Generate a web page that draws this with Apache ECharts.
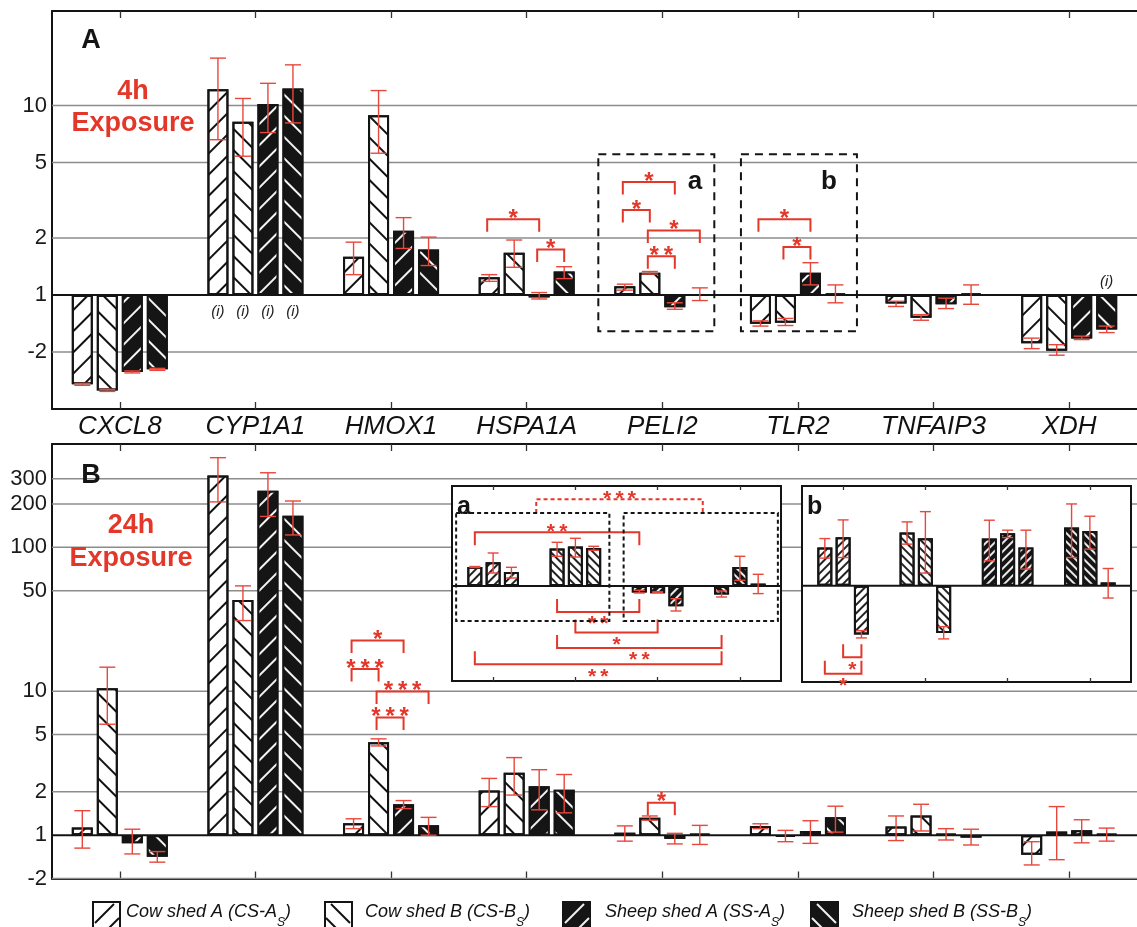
<!DOCTYPE html>
<html><head><meta charset="utf-8">
<script src="https://cdn.jsdelivr.net/npm/echarts@6/dist/echarts.min.js"></script>
<style>html,body{margin:0;padding:0;background:#fff}#c{width:1137px;height:927px}</style>
</head><body><div id="c"></div>
<script>
// ---------------- DATA ----------------
const genes = ['CXCL8','CYP1A1','HMOX1','HSPA1A','PELI2','TLR2','TNFAIP3','XDH'];
const groupNames = ['Cow shed A (CS-A','Cow shed B (CS-B','Sheep shed A (SS-A','Sheep shed B (SS-B'];
const groupSub = 'S';
const ticksA = [-2, 1, 2, 5, 10];
const ticksB = [-2, 1, 2, 5, 10, 50, 100, 200, 300];

// Panel A: 4h exposure, fold change (negative = down-regulation)
const a_CSA = [-2.96, 12.2, 1.59, 1.24, 1.11, -1.42, -1.11, -1.80];
const a_CSB = [-3.19, 8.2, 8.9, 1.67, 1.31, -1.40, -1.32, -1.97];
const a_SSA = [-2.55, 10.2, 2.18, -1.03, -1.16, 1.31, -1.12, -1.70];
const a_SSB = [-2.47, 12.3, 1.74, 1.33, 1.0, 1.02, 1.02, -1.52];
const aErr_CSA = [[-3.0,-2.93],[6.6,17.8],[1.28,1.9],[1.18,1.28],[1.06,1.14],[-1.46,-1.37],[-1.15,-1.08],[-1.92,-1.69]];
const aErr_CSB = [[-3.23,-3.15],[5.4,10.9],[5.6,12.0],[1.40,1.95],[1.29,1.33],[-1.45,-1.33],[-1.36,-1.27],[-2.08,-1.83]];
const aErr_SSA = [[-2.58,-2.52],[7.2,13.1],[1.76,2.56],[-1.05,1.03],[-1.19,-1.10],[1.13,1.48],[-1.18,-1.04],[-1.72,-1.65]];
const aErr_SSB = [[-2.5,-2.44],[8.1,16.4],[1.43,2.02],[1.22,1.41],[-1.07,1.09],[-1.10,1.13],[-1.12,1.13],[-1.58,-1.46]];

// Panel B: 24h exposure
const b_CSA = [1.13, 316, 1.21, 2.04, 1.04, 1.16, 1.15, -1.37];
const b_CSB = [10.5, 43, 4.43, 2.71, 1.32, -1.03, 1.37, 1.06];
const b_SSA = [-1.14, 247, 1.64, 2.19, -1.06, 1.07, 1.02, 1.08];
const b_SSB = [-1.41, 166, 1.17, 2.07, 1.02, 1.33, -1.04, 1.02];
const bErr_CSA = [[-1.23,1.48],[207,420],[1.11,1.30],[1.58,2.48],[-1.10,1.16],[1.11,1.20],[-1.09,1.36],[-1.61,-1.11]];
const bErr_CSB = [[5.9,14.7],[31,54],[4.17,4.67],[1.90,3.46],[1.27,1.36],[-1.11,1.08],[1.07,1.64],[-1.48,1.58]];
const bErr_SSA = [[-1.35,1.10],[164,330],[1.53,1.74],[1.50,2.85],[-1.15,1.03],[-1.14,1.26],[-1.08,1.11],[-1.13,1.28]];
const bErr_SSB = [[-1.54,-1.30],[122,210],[1.0,1.33],[1.43,2.64],[-1.16,1.17],[1.05,1.59],[-1.17,1.10],[-1.10,1.12]];

// significance brackets: [gene, barFrom, barTo, fold level, label]
const sigA = [[3,0,2,2.51,'*'],[3,2,3,1.74,'*'],[4,0,2,3.95,'*'],[4,0,1,2.81,'*'],[4,1,3,2.19,'*'],[4,1,2,1.60,'**'],[5,0,2,2.51,'*'],[5,1,2,1.79,'*']];
const sigB = [[2,0,2,22.5,'*'],[2,0,1,14.3,'***'],[2,1,3,9.96,'***'],[2,1,2,6.57,'***'],[4,1,2,1.68,'*']];
// "(i)" marks: [gene, bar]
const marksI_A = [[1,0],[1,1],[1,2],[1,3],[7,3]];

// Insets (relative log2 units), per shed group, three bars each
const inA_CSA = [0.19, 0.237, 0.14], inA_CSB = [0.374, 0.394, 0.38], inA_SSA = [-0.066, -0.073, -0.203], inA_SSB = [-0.086, 0.19, 0.024];
const inAErr_CSA = [[0.185,0.195],[0.13,0.33],[0.08,0.187]];
const inAErr_CSB = [[0.297,0.437],[0.29,0.477],[0.357,0.397]];
const inAErr_SSA = [[-0.07,-0.043],[-0.065,-0.058],[-0.25,-0.127]];
const inAErr_SSB = [[-0.11,-0.05],[0.057,0.297],[-0.076,0.117]];
const inB_CSA = [0.383, 0.487, -0.49], inB_CSB = [0.533, 0.477, -0.473], inB_SSA = [0.473, 0.527, 0.383], inB_SSB = [0.583, 0.55, 0.033];
const inBErr_CSA = [[0.277,0.473],[0.283,0.66],[-0.523,-0.45]];
const inBErr_CSB = [[0.417,0.64],[0.127,0.743],[-0.533,-0.41]];
const inBErr_SSA = [[0.25,0.657],[0.483,0.557],[0.167,0.557]];
const inBErr_SSB = [[0.283,0.82],[0.367,0.697],[-0.123,0.173]];
// inset brackets: [groupFrom, barFrom, groupTo, barTo, level, label, legs]
const sigInA = [[0,0,2,0,0.537,'**','down'],[1,0,2,0,-0.26,'**','up'],[1,1,2,1,-0.466,'*','up'],[1,0,3,0,-0.62,'**','up'],[0,0,3,0,-0.783,'**','up']];
const sigInADashed = [[0,1,2,3,0.867,0.73,'***']];
const sigInB = [[0,1,0,2,-0.717,'*','up'],[0,0,0,2,-0.883,'*','up']];

// ---------------- HELPERS ----------------
const RED = '#e3372a', ERR = '#e8473b', INK = '#141414';
const FONT = '"Liberation Sans", Arial, Helvetica, sans-serif';
const t = f => f >= 1 ? Math.log2(f) : (f <= -1 ? -Math.log2(-f) : 0);
const id = v => v;
const stars = s => s.split('').join('\u2009');
const hatch = (color, dir, w, gap) => ({symbol:'rect', symbolSize:1, color, dashArrayX:[1,0], dashArrayY:[w,gap], rotation: -dir*Math.PI/4});
const fills = ['#ffffff','#ffffff','#151515','#151515'];
const hatchMain = [hatch('#111',1,2,13), hatch('#111',-1,2,13), hatch('#f4f4f4',1,2,13), hatch('#f4f4f4',-1,2,13)];
const hatchFine = [hatch('#222',1,1.2,3.3), hatch('#222',-1,1.2,3.3), hatch('#e8e8e8',1,1.2,3.3), hatch('#e8e8e8',-1,1.2,3.3)];

const PITCH = 25, PITCH_IN = 18.3;

function mainBars(lists, xi, yi) {
  return lists.map((vals, g) => ({
    type:'bar', name: groupNames[g], xAxisIndex: xi, yAxisIndex: yi, data: vals.map(t),
    barWidth: 21, barGap: '19.05%', z: 2, silent: true,
    itemStyle: {color: fills[g], borderColor: INK, borderWidth: 2, decal: hatchMain[g]}
  }));
}
function insetBars(groups, xi, yi, z) {
  const out = [];
  for (let b = 0; b < 3; b++) {
    out.push({type:'bar', xAxisIndex: xi, yAxisIndex: yi, barWidth: 15, barGap: '22%', z, silent: true,
      data: groups.map((g, c) => ({value: g[b], itemStyle: {color: fills[c], borderColor: INK, borderWidth: 2, decal: hatchFine[c]}}))});
  }
  return out;
}
// lists[g][c] = [lo, hi]; g = bar slot, c = category
function errSeries(lists, xi, yi, pitch, cap, z, tf) {
  const data = [];
  const n = lists.length;
  lists.forEach((lst, g) => lst.forEach((e, c) => data.push([c, g, tf(e[0]), tf(e[1])])));
  return {type:'custom', xAxisIndex: xi, yAxisIndex: yi, z, silent: true, data,
    renderItem(params, api) {
      const c = api.value(0), g = api.value(1);
      const p0 = api.coord([c, api.value(2)]), p1 = api.coord([c, api.value(3)]);
      const x = p0[0] + (g - (n - 1) / 2) * pitch;
      const st = {stroke: ERR, lineWidth: 1.4};
      return {type:'group', children:[
        {type:'line', shape:{x1:x, y1:p0[1], x2:x, y2:p1[1]}, style: st},
        {type:'line', shape:{x1:x-cap/2, y1:p0[1], x2:x+cap/2, y2:p0[1]}, style: st},
        {type:'line', shape:{x1:x-cap/2, y1:p1[1], x2:x+cap/2, y2:p1[1]}, style: st}
      ]};
    }};
}
function hLines(vals, xi, yi, color, width, z) {
  return {type:'custom', xAxisIndex: xi, yAxisIndex: yi, z, silent: true, data: vals.map(v => [0, v]),
    renderItem(params, api) {
      const cs = params.coordSys;
      const y = api.coord([0, api.value(1)])[1];
      return {type:'line', shape:{x1: cs.x, y1: y, x2: cs.x + cs.width, y2: y}, style:{stroke: color, lineWidth: width}};
    }};
}
function bracketEl(x1, x2, y, leg, label, fs, dashed) {
  const up = leg < 0;
  return [
    {type:'polyline', shape:{points:[[x1, y + leg],[x1, y],[x2, y],[x2, y + leg]]}, style:{stroke: RED, lineWidth: 2, fill: 'none', lineDash: dashed ? [4,3] : null}},
    {type:'text', x:(x1 + x2) / 2, y: up ? y + fs * 0.6 : y, style:{text: stars(label), align:'center', verticalAlign:'middle', font: `bold ${fs}px ${FONT}`, fill: RED}}
  ];
}
function panelAnno(xi, yi, sig, marks, boxes, z) {
  return {type:'custom', xAxisIndex: xi, yAxisIndex: yi, z, silent: true, data: [[0, 0]],
    renderItem(params, api) {
      const ch = [];
      sig.forEach(b => {
        const p = api.coord([b[0], t(b[3])]);
        ch.push(...bracketEl(p[0] + (b[1] - 1.5) * PITCH - 2, p[0] + (b[2] - 1.5) * PITCH, p[1], 12.5, b[4], 24, false));
      });
      marks.forEach(m => {
        const p = api.coord([m[0], 0]);
        const neg = m[0] === 7;
        ch.push({type:'text', x: p[0] + (m[1] - 1.5) * PITCH, y: p[1] + (neg ? -13 : 17), style:{text:'(i)', align:'center', verticalAlign:'middle', font:`italic 15px ${FONT}`, fill:'#222'}});
      });
      boxes.forEach(bx => {
        const p = api.coord([bx.gene, t(bx.top)]), q = api.coord([bx.gene, t(bx.bottom)]);
        ch.push({type:'rect', shape:{x: p[0] + bx.dx0, y: p[1], width: bx.dx1 - bx.dx0, height: q[1] - p[1]}, style:{fill:'none', stroke: INK, lineWidth: 2, lineDash:[8,6]}});
        ch.push({type:'text', x: p[0] + bx.dx1 - bx.lx, y: p[1] + 28, style:{text: bx.label, align:'right', verticalAlign:'middle', font:`bold 26px ${FONT}`, fill: INK}});
      });
      return {type:'group', children: ch};
    }};
}
function insetAnno(xi, yi, sig, dashed, boxes, letter, z) {
  return {type:'custom', xAxisIndex: xi, yAxisIndex: yi, z, silent: true, data: [[0, 0]],
    renderItem(params, api) {
      const ch = [];
      const cs = params.coordSys;
      const cx = (c, b) => api.coord([c, 0])[0] + (b - 1) * PITCH_IN;
      sig.forEach(s => {
        const y = api.coord([0, s[4]])[1];
        ch.push(...bracketEl(cx(s[0], s[1]), cx(s[2], s[3]), y, s[6] === 'up' ? -13 : 13, s[5], 21, false));
      });
      dashed.forEach(s => {
        const xa = (api.coord([s[0], 0])[0] + api.coord([s[1], 0])[0]) / 2 + 2;
        const xb = (api.coord([s[2], 0])[0] + api.coord([s[3], 0])[0]) / 2 + 4;
        const y = api.coord([0, s[4]])[1], y2 = api.coord([0, s[5]])[1];
        ch.push(...bracketEl(xa, xb, y, y2 - y, s[6], 21, true));
      });
      boxes.forEach(bx => {
        const x0 = api.coord([bx.c0, 0])[0] + bx.dx0, x1 = api.coord([bx.c1, 0])[0] + bx.dx1;
        const y0 = api.coord([0, bx.top])[1], y1 = api.coord([0, bx.bottom])[1];
        ch.push({type:'rect', shape:{x: x0, y: y0, width: x1 - x0, height: y1 - y0}, style:{fill:'none', stroke: INK, lineWidth: 2, lineDash:[4,3]}});
      });
      ch.push({type:'text', x: cs.x + 5, y: cs.y + 21, style:{text: letter, align:'left', verticalAlign:'middle', font:`bold 25px ${FONT}`, fill: INK}});
      return {type:'group', children: ch};
    }};
}
function yLabelFmt(ticks) {
  return v => { let best = ticks[0], d = 1e9; ticks.forEach(f => { const dd = Math.abs(t(f) - v); if (dd < d) { d = dd; best = f; } }); return String(best); };
}
function catAxis(gi, pos, opts) {
  return Object.assign({type:'category', gridIndex: gi, position: pos, data: opts.data || genes, boundaryGap: true,
    axisLine:{show: opts.line !== false, onZero:false, lineStyle:{color: INK, width: 2}},
    axisTick:{show:true, inside:true, alignWithLabel:true, interval:0, length: opts.tick || 7, lineStyle:{color:'#333', width:1.3}},
    axisLabel:{show:false}, splitLine:{show:false}, z: opts.z || 0}, opts.extra || {});
}
function valAxis(gi, min, max, ticks, show) {
  return {type:'value', gridIndex: gi, min, max, show: show,
    axisLine:{show: true, onZero:false, lineStyle:{color: INK, width: 2}},
    axisTick:{show:false}, splitLine:{show:false},
    axisLabel: ticks ? {show:true, customValues: ticks.map(t), formatter: yLabelFmt(ticks), fontSize: 22, fontFamily: FONT, color:'#1a1a1a', margin: 5} : {show:false}};
}

const inAGroups = [inA_CSA, inA_CSB, inA_SSA, inA_SSB];
const inBGroups = [inB_CSA, inB_CSB, inB_SSA, inB_SSB];
const inErrSlots = (errs) => [0,1,2].map(b => errs.map(e => e[b]));

const option = {
  animation: false,
  backgroundColor: '#fff',
  grid: [
    {left: 52, top: 11, width: 1096, height: 398},
    {left: 52, top: 444, width: 1096, height: 434.5},
    {left: 452, top: 486, width: 329, height: 195, show: true, backgroundColor:'#fff', borderColor: INK, borderWidth: 2, z: 20},
    {left: 802, top: 486, width: 329, height: 196, show: true, backgroundColor:'#fff', borderColor: INK, borderWidth: 2, z: 20}
  ],
  xAxis: [
    catAxis(0, 'bottom', {extra:{axisLabel:{show:true, interval:0, fontSize:26, fontStyle:'italic', fontFamily: FONT, color:'#111', margin:5}}}),
    catAxis(0, 'top', {}),
    catAxis(1, 'bottom', {}),
    catAxis(1, 'top', {}),
    catAxis(2, 'bottom', {data:['a1','a2','a3','a4'], line:false, tick:4, z:23}),
    catAxis(2, 'top', {data:['a1','a2','a3','a4'], line:false, tick:4, z:23}),
    catAxis(3, 'bottom', {data:['b1','b2','b3','b4'], line:false, tick:4, z:23}),
    catAxis(3, 'top', {data:['b1','b2','b3','b4'], line:false, tick:4, z:23})
  ],
  yAxis: [
    valAxis(0, -2, 4.98, ticksA, true),
    valAxis(1, -1, 9.03, ticksB, true),
    valAxis(2, -0.95, 1.0, null, false),
    valAxis(3, -0.965, 1.0, null, false)
  ],
  series: [
    hLines(ticksA.filter(f => f !== 1).map(t), 0, 0, '#8c8c8c', 1.5, 1),
    hLines(ticksB.filter(f => f !== 1).map(t), 2, 1, '#8c8c8c', 1.5, 1),
    ...mainBars([a_CSA, a_CSB, a_SSA, a_SSB], 0, 0),
    ...mainBars([b_CSA, b_CSB, b_SSA, b_SSB], 2, 1),
    hLines([0], 0, 0, INK, 2, 3),
    hLines([0], 2, 1, INK, 2, 3),
    errSeries([aErr_CSA, aErr_CSB, aErr_SSA, aErr_SSB], 0, 0, PITCH, 16, 4, t),
    errSeries([bErr_CSA, bErr_CSB, bErr_SSA, bErr_SSB], 2, 1, PITCH, 16, 4, t),
    panelAnno(0, 0, sigA, marksI_A, [
      {gene:4, dx0:-64, dx1:52, top:5.53, bottom:-1.555, label:'a', lx:12},
      {gene:5, dx0:-57, dx1:59, top:5.53, bottom:-1.555, label:'b', lx:20}], 5),
    panelAnno(2, 1, sigB, [], [], 5),
    ...insetBars(inAGroups, 4, 2, 22),
    ...insetBars(inBGroups, 6, 3, 22),
    hLines([0], 4, 2, INK, 2, 23),
    hLines([0], 6, 3, INK, 2, 23),
    errSeries(inErrSlots([inAErr_CSA, inAErr_CSB, inAErr_SSA, inAErr_SSB]), 4, 2, PITCH_IN, 11, 24, id),
    errSeries(inErrSlots([inBErr_CSA, inBErr_CSB, inBErr_SSA, inBErr_SSB]), 6, 3, PITCH_IN, 11, 24, id),
    insetAnno(4, 2, sigInA, sigInADashed, [
      {c0:0, dx0:-37, c1:1, dx1:34, top:0.73, bottom:-0.35},
      {c0:2, dx0:-34, c1:3, dx1:38, top:0.73, bottom:-0.35}], 'a', 25),
    insetAnno(6, 3, sigInB, [], [], 'b', 25)
  ],
  graphic: (function () {
    const els = [];
    const txt = (x, y, s, font, fill) => ({type:'text', x, y, silent:true, z: 30, style:{text: s, align:'center', verticalAlign:'middle', font, fill}});
    els.push(txt(91, 41, 'A', `bold 27px ${FONT}`, INK));
    els.push(txt(91, 476, 'B', `bold 27px ${FONT}`, INK));
    els.push(txt(133, 92, '4h', `bold 27px ${FONT}`, RED));
    els.push(txt(133, 124, 'Exposure', `bold 27px ${FONT}`, RED));
    els.push(txt(131, 526, '24h', `bold 27px ${FONT}`, RED));
    els.push(txt(131, 559, 'Exposure', `bold 27px ${FONT}`, RED));
    const iconX = [93, 325, 563, 811], textX = [126, 365, 605, 852];
    groupNames.forEach((nm, g) => {
      const x = iconX[g], y = 902, s = 27;
      const lc = g < 2 ? '#111' : '#f2f2f2', lw = 2;
      els.push({type:'rect', silent:true, z:30, shape:{x, y, width: s, height: s}, style:{fill: fills[g], stroke: INK, lineWidth: 2}});
      if (g % 2 === 0) {
        els.push({type:'line', silent:true, z:31, shape:{x1:x+2, y1:y+21, x2:x+21, y2:y+2}, style:{stroke: lc, lineWidth: lw}});
        els.push({type:'line', silent:true, z:31, shape:{x1:x+15, y1:y+27, x2:x+26, y2:y+16}, style:{stroke: lc, lineWidth: lw}});
      } else {
        els.push({type:'line', silent:true, z:31, shape:{x1:x+6, y1:y+2, x2:x+25, y2:y+21}, style:{stroke: lc, lineWidth: lw}});
        els.push({type:'line', silent:true, z:31, shape:{x1:x+1, y1:y+16, x2:x+12, y2:y+27}, style:{stroke: lc, lineWidth: lw}});
      }
      els.push({type:'text', silent:true, z:30, x: textX[g], y: 903, style:{
        text: `{a|${nm}}{s|${groupSub}}{a|)}`, align:'left', verticalAlign:'top',
        rich: {
          a: {fontSize: 18, fontStyle:'italic', fontFamily: FONT, fill:'#111', lineHeight: 22, verticalAlign:'top'},
          s: {fontSize: 12, fontStyle:'italic', fontFamily: FONT, fill:'#111', lineHeight: 12, padding:[14,0,0,0], verticalAlign:'top'}
        }}});
    });
    return els;
  })()
};

const chart = echarts.init(document.getElementById('c'), null, {renderer:'canvas'});
chart.setOption(option);
</script>
</body></html>
